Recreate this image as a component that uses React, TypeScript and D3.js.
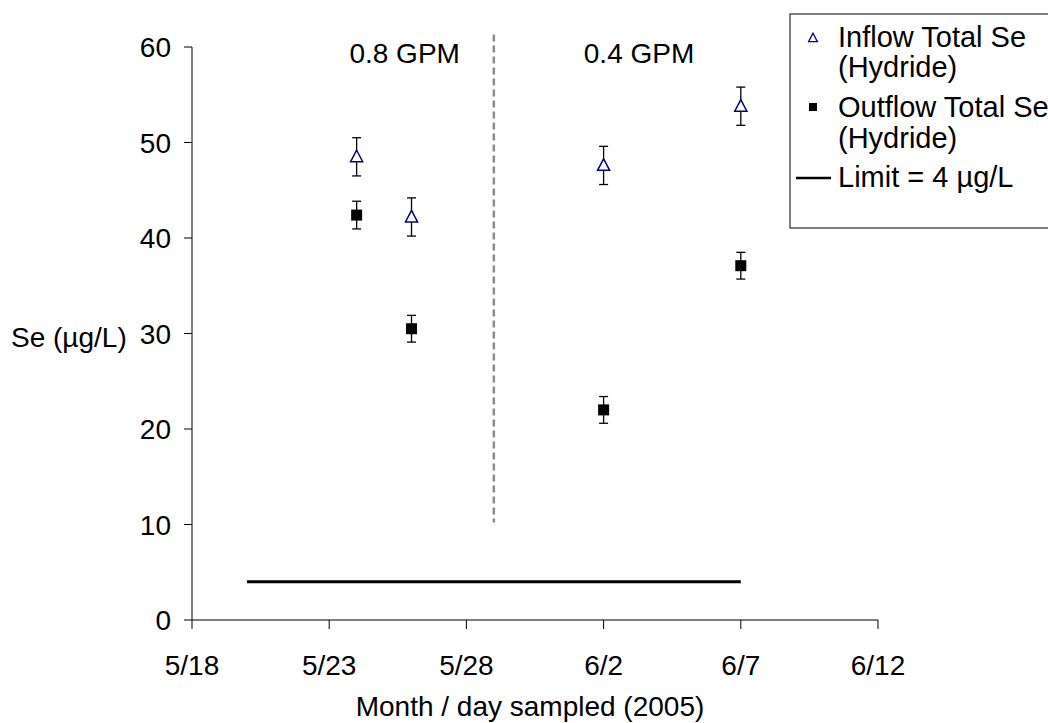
import React from "react";
import * as d3 from "d3";

const xTickDates = ["2005-05-18", "2005-05-23", "2005-05-28", "2005-06-02", "2005-06-07", "2005-06-12"];
const xTickLabels = ["5/18", "5/23", "5/28", "6/2", "6/7", "6/12"];
const yTicks = [0, 10, 20, 30, 40, 50, 60];

const sampleDates = ["2005-05-24", "2005-05-26", "2005-06-02", "2005-06-07"];
const inflowValues = [48.5, 42.2, 47.6, 53.8];
const inflowErrors = [2.0, 2.0, 2.0, 2.0];
const outflowValues = [42.4, 30.5, 22.0, 37.1];
const outflowErrors = [1.45, 1.4, 1.4, 1.4];

const limitValue = 4;
const limitDates = ["2005-05-20", "2005-06-07"];
const dividerDate = "2005-05-29";
const dividerRange = [10.2, 61.3];
const flowLabels = ["0.8 GPM", "0.4 GPM"];
const flowLabelDates = ["2005-05-25T18:00:00", "2005-06-03T07:00:00"];

const parse = (s: string) => new Date(s.length > 10 ? s + "Z" : s + "T00:00:00Z");

export default function App() {
  const W = 1048, H = 723;
  const x = d3.scaleUtc().domain([parse(xTickDates[0]), parse(xTickDates[5])]).range([192, 878]);
  const y = d3.scaleLinear().domain([0, 60]).range([620, 47]);
  const font = "'Liberation Sans', Arial, sans-serif";
  const fs = 28;
  const lfs = 29;

  const tri = (cx: number, cy: number, s: number) =>
    `M${cx},${cy - s * 0.6}L${cx + s * 0.55},${cy + s * 0.45}L${cx - s * 0.55},${cy + s * 0.45}Z`;

  const errBar = (cx: number, v: number, e: number, key: string) => (
    <g key={key} stroke="#000" strokeWidth={1.3}>
      <line x1={cx} x2={cx} y1={y(v + e)} y2={y(v - e)} />
      <line x1={cx - 4.5} x2={cx + 4.5} y1={y(v + e)} y2={y(v + e)} />
      <line x1={cx - 4.5} x2={cx + 4.5} y1={y(v - e)} y2={y(v - e)} />
    </g>
  );

  return (
    <svg width={W} height={H} style={{ position: "absolute", left: 0, top: 0 }} fontFamily={font}>
      <rect width={W} height={H} fill="#fff" />
      {/* axes */}
      <line x1={192} x2={192} y1={y(60)} y2={y(0)} stroke="#000" strokeWidth={1} />
      <line x1={192} x2={878} y1={y(0)} y2={y(0)} stroke="#000" strokeWidth={1} />
      {yTicks.map((t) => (
        <g key={"y" + t}>
          <line x1={184} x2={192} y1={y(t)} y2={y(t)} stroke="#000" />
          <text x={171} y={y(t) + 10} fontSize={fs} textAnchor="end">{t}</text>
        </g>
      ))}
      {xTickDates.map((d, i) => (
        <g key={"x" + d}>
          <line x1={x(parse(d))} x2={x(parse(d))} y1={620} y2={629} stroke="#000" />
          <text x={x(parse(d))} y={675} fontSize={fs} textAnchor="middle">{xTickLabels[i]}</text>
        </g>
      ))}
      <text x={11} y={347} fontSize={fs}>Se (µg/L)</text>
      <text x={530} y={716} fontSize={fs} textAnchor="middle">Month / day sampled (2005)</text>

      {/* divider */}
      <line x1={x(parse(dividerDate))} x2={x(parse(dividerDate))} y1={y(dividerRange[1])} y2={y(dividerRange[0])}
        stroke="#8c8c8c" strokeWidth={2.5} strokeDasharray="7,4" />
      {flowLabels.map((l, i) => (
        <text key={l} x={x(parse(flowLabelDates[i]))} y={63} fontSize={fs} textAnchor="middle">{l}</text>
      ))}

      {/* limit */}
      <line x1={x(parse(limitDates[0]))} x2={x(parse(limitDates[1]))} y1={y(limitValue)} y2={y(limitValue)}
        stroke="#000" strokeWidth={3} />

      {/* error bars */}
      {sampleDates.map((d, i) => errBar(x(parse(d)), inflowValues[i], inflowErrors[i], "ie" + i))}
      {sampleDates.map((d, i) => errBar(x(parse(d)), outflowValues[i], outflowErrors[i], "oe" + i))}
      {/* markers */}
      {sampleDates.map((d, i) => (
        <path key={"i" + i} d={tri(x(parse(d)), y(inflowValues[i]), 11)} fill="#fff" stroke="#000080" strokeWidth={1.5} />
      ))}
      {sampleDates.map((d, i) => (
        <rect key={"o" + i} x={x(parse(d)) - 5.5} y={y(outflowValues[i]) - 5.5} width={11} height={11} fill="#000" />
      ))}

      {/* legend */}
      <rect x={790} y={14} width={300} height={214} fill="#fff" stroke="#000" strokeWidth={1} />
      <path d={tri(813, 38, 8)} fill="#fff" stroke="#000080" strokeWidth={1.3} />
      <text x={838} y={47} fontSize={lfs}>Inflow Total Se</text>
      <text x={838} y={77} fontSize={lfs}>(Hydride)</text>
      <rect x={809} y={103} width={8} height={8} fill="#000" />
      <text x={838} y={117} fontSize={lfs}>Outflow Total Se</text>
      <text x={838} y={148} fontSize={lfs}>(Hydride)</text>
      <line x1={796} x2={831} y1={178} y2={178} stroke="#000" strokeWidth={2.5} />
      <text x={838} y={187} fontSize={lfs}>Limit = 4 µg/L</text>
    </svg>
  );
}
